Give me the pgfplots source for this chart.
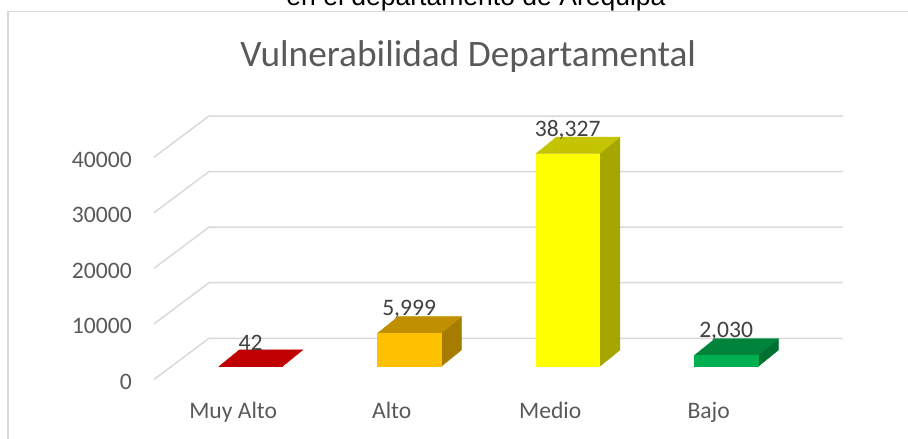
\documentclass[border=0pt]{standalone}
\usepackage{fontspec}
\setmainfont{Carlito}
\newfontfamily\capfont{Liberation Sans}
\usepackage{pgfplots}
\pgfplotsset{compat=1.18}
% 1 px of the reference = 0.75pt, axis fills the whole picture
\definecolor{txt}{RGB}{89,89,89}
\definecolor{lab}{RGB}{64,64,64}
\definecolor{gridc}{RGB}{217,217,217}
\definecolor{rojo}{RGB}{192,0,0}
\definecolor{nar}{RGB}{255,192,0}
\definecolor{narT}{RGB}{192,144,0}
\definecolor{narS}{RGB}{166,124,0}
\definecolor{ama}{RGB}{255,255,0}
\definecolor{amaT}{RGB}{196,196,0}
\definecolor{amaS}{RGB}{166,166,0}
\definecolor{ver}{RGB}{0,176,80}
\definecolor{verT}{RGB}{0,132,60}
\definecolor{verS}{RGB}{0,112,50}
\pgfplotsset{
  gl/.style={gridc,line width=1.1pt,no marks},
  face/.style={draw=#1,fill=#1,line width=0.3pt,no marks},
  bar3/.style={ybar,bar width=47.55pt,bar shift=0pt,draw=#1,fill=#1,line width=0.3pt,
    nodes near coords,
    every node near coord/.style={anchor=center,yshift=18pt,inner sep=0,text=lab,
      font=\fontsize{17.7}{20}\selectfont,
      /pgf/number format/.cd,1000 sep={,},assume math mode=true}},
}
\begin{document}
\begin{tikzpicture}
\path[use as bounding box,clip] (0,0) rectangle (681pt,329.25pt);
\begin{axis}[
    at={(0,0)},anchor=south west,
    scale only axis,width=681pt,height=329.25pt,
    xmin=-1.4713,xmax=4.2574,
    ymin=-13011,ymax=65989,
    axis line style={draw=none},
    tick style={draw=none},major tick length=0pt,
    xtick={0,1,2,3},
    xticklabels={Muy Alto,Alto,Medio,Bajo},
    ytick={-2302,7698,17698,27698,37698},
    yticklabels={0,10000,20000,30000,40000},
    xticklabel style={anchor=base,inner sep=0,yshift=15pt,text=txt,font=\fontsize{17.7}{20}\selectfont},
    yticklabel style={anchor=east,inner sep=0,xshift=99pt,yshift=-1.8pt,text=txt,font=\fontsize{17.7}{20}\selectfont},
    clip=false,
]
  % frame, top and left only
  \addplot[gridc,line width=0.9pt,no marks] coordinates {(-1.4209,-13011) (-1.4209,63900) (4.2574,63900)};
  % walls
  \addplot[gl] coordinates {(-0.5,-2302) (-0.1527,5110) (3.847,5110)};
  \addplot[gl] coordinates {(-0.5,7698) (-0.1527,15110) (3.847,15110)};
  \addplot[gl] coordinates {(-0.5,17698) (-0.1527,25110) (3.847,25110)};
  \addplot[gl] coordinates {(-0.5,27698) (-0.1527,35110) (3.847,35110)};
  \addplot[gl] coordinates {(-0.5,37698) (-0.1527,45110) (3.847,45110)};
  % side and top faces
  \addplot[face=rojo] coordinates {(-0.09,42) (0.31,42) (0.44,3042) (0.04,3042)} --cycle;
  \addplot[face=narS] coordinates {(1.31,0) (1.44,3000) (1.44,8999) (1.31,5999)} --cycle;
  \addplot[face=narT] coordinates {(0.91,5999) (1.31,5999) (1.44,8999) (1.04,8999)} --cycle;
  \addplot[face=amaS] coordinates {(2.31,0) (2.44,3000) (2.44,41327) (2.31,38327)} --cycle;
  \addplot[face=amaT] coordinates {(1.91,38327) (2.31,38327) (2.44,41327) (2.04,41327)} --cycle;
  \addplot[face=verS] coordinates {(3.31,0) (3.44,3000) (3.44,5030) (3.31,2030)} --cycle;
  \addplot[face=verT] coordinates {(2.91,2030) (3.31,2030) (3.44,5030) (3.04,5030)} --cycle;
  % front faces with value labels
  \addplot[bar3=rojo] coordinates {(0.11,42)};
  \addplot[bar3=nar] coordinates {(1.11,5999)};
  \addplot[bar3=ama] coordinates {(2.11,38327)};
  \addplot[bar3=ver] coordinates {(3.11,2030)};
  \node[text=txt,font=\fontsize{28}{32}\selectfont,anchor=base] at (axis cs:1.4828,53986) {Vulnerabilidad Departamental};
  \node[text=black,font=\capfont\fontsize{19.9}{22}\selectfont,anchor=base] at (axis cs:1.532,65000) {en el departamento de Arequipa};
\end{axis}
\end{tikzpicture}
\end{document}
